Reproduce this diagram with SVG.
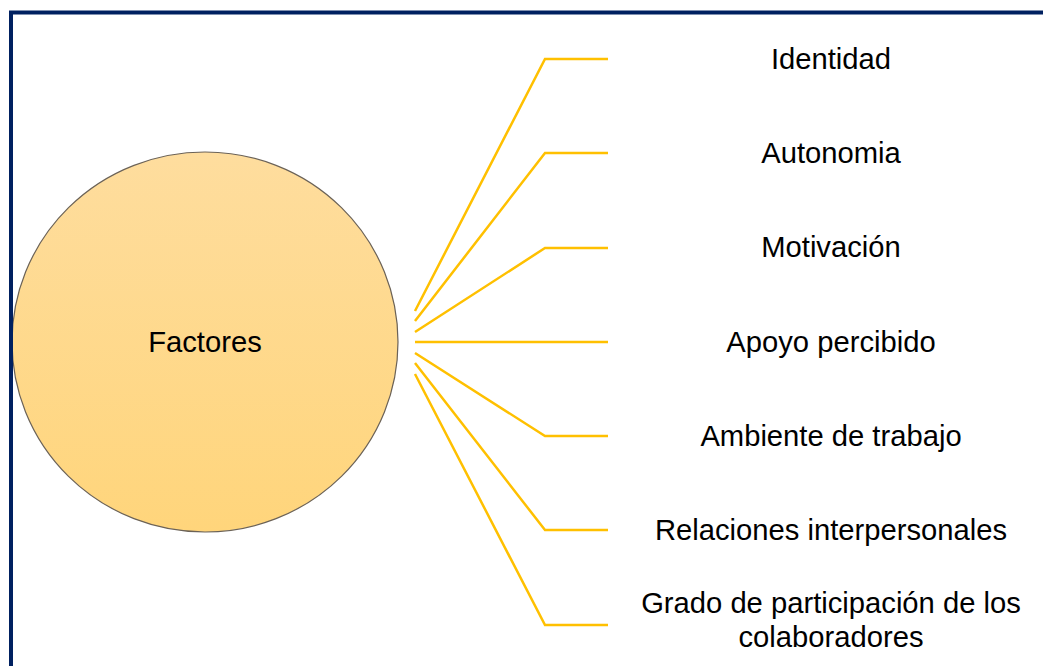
<svg xmlns="http://www.w3.org/2000/svg" width="1043" height="666" viewBox="0 0 1043 666">
<style>
.lbl{font-family:"Liberation Sans",Arial,sans-serif;font-size:29.2px;fill:#000;text-anchor:middle}
.con{fill:none;stroke:#FFC000;stroke-width:2.5}
.frame{fill:none;stroke:#002060;stroke-width:4}
</style>
<defs>
<linearGradient id="g" x1="0" y1="0" x2="0" y2="1">
<stop offset="0" stop-color="#FEDD9E"/>
<stop offset="1" stop-color="#FFD57B"/>
</linearGradient>
</defs>
<rect width="1043" height="666" fill="#fff"/>
<g id="factores">
<ellipse cx="205" cy="342" rx="193" ry="190" fill="url(#g)" stroke="#6b6257" stroke-width="1.2"/>
<text class="lbl" x="205" y="352">Factores</text>
</g>
<path class="frame" d="M11,666 V12.5 H1043"/>
<g id="connectors">
<polyline class="con" points="415,311 545,59 608,59"/>
<polyline class="con" points="415,321 545,153 608,153"/>
<polyline class="con" points="415,332 545,248 608,248"/>
<polyline class="con" points="415,342 608,342"/>
<polyline class="con" points="415,353 545,436 608,436"/>
<polyline class="con" points="415,363 545,530 608,530"/>
<polyline class="con" points="415,374 545,625 608,625"/>
</g>
<g id="identidad"><text class="lbl" x="831" y="69">Identidad</text></g>
<g id="autonomia"><text class="lbl" x="831" y="163">Autonomia</text></g>
<g id="motivacion"><text class="lbl" x="831" y="257">Motivación</text></g>
<g id="apoyo"><text class="lbl" x="831" y="352">Apoyo percibido</text></g>
<g id="ambiente"><text class="lbl" x="831" y="446">Ambiente de trabajo</text></g>
<g id="relaciones"><text class="lbl" x="831" y="540">Relaciones interpersonales</text></g>
<g id="grado"><text class="lbl" x="831" y="613">Grado de participación de los</text><text class="lbl" x="831" y="647">colaboradores</text></g>
</svg>
